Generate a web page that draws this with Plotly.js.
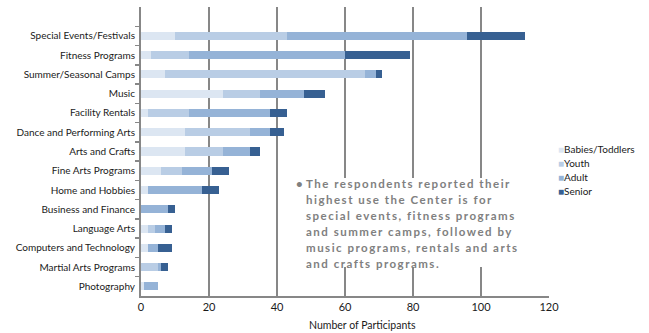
<!DOCTYPE html>
<html>
<head>
<meta charset="utf-8">
<script src="https://cdn.plot.ly/plotly-3.0.1.min.js"></script>
<style>
  html, body { margin: 0; padding: 0; background: #fff; }
  #chart { width: 649px; height: 333px; }
  .annotation-text.note { letter-spacing: 1.5px; }
</style>
</head>
<body>
<div id="chart"></div>
<script>
// Program usage by age group (listed top to bottom)
const programs = [
  "Special Events/Festivals",
  "Fitness Programs",
  "Summer/Seasonal Camps",
  "Music",
  "Facility Rentals",
  "Dance and Performing Arts",
  "Arts and Crafts",
  "Fine Arts Programs",
  "Home and Hobbies",
  "Business and Finance",
  "Language Arts",
  "Computers and Technology",
  "Martial Arts Programs",
  "Photography"
];
const babiesToddlers = [10, 3, 7, 24, 2, 13, 13, 6, 2, 0, 2, 2, 0, 1];
const youth          = [33, 11, 59, 11, 12, 19, 11, 6, 0, 0, 2, 0, 5, 0];
const adult          = [53, 46, 3, 13, 24, 6, 8, 9, 16, 8, 3, 3, 1, 4];
const senior         = [17, 19, 2, 6, 5, 4, 3, 5, 5, 2, 2, 4, 2, 0];
const seriesNames  = ["Babies/Toddlers", "Youth", "Adult", "Senior"];
const seriesColors = ["#dce6f2", "#b9cde5", "#95b3d7", "#376092"];
const xTicks = [0, 20, 40, 60, 80, 100, 120];

// commentary shown in the open area of the chart
const noteLines = [
  "The respondents reported their",
  "highest use the Center is for",
  "special events, fitness programs",
  "and summer camps, followed by",
  "music programs, rentals and arts",
  "and crafts programs."
];

const font = "Lato, 'Noto Sans', sans-serif";
const plotTop = 7, plotHeight = 289;
function paperY(px) { return (plotTop + plotHeight - px) / plotHeight; }

const data = [babiesToddlers, youth, adult, senior].map(function (values, i) {
  return {
    type: "bar",
    orientation: "h",
    name: seriesNames[i],
    y: programs,
    x: values,
    marker: { color: seriesColors[i], line: { width: 0 } },
    width: 0.42,
    hoverinfo: "x+name"
  };
});

// compact legend: one text row per series, square swatch in the series colour
const legendRows = seriesNames.map(function (name, i) {
  return {
    xref: "paper", yref: "paper",
    x: 1.018, y: paperY(149 + i * 14),
    xanchor: "left", yanchor: "middle",
    align: "left",
    showarrow: false,
    text: "<span style='color:" + seriesColors[i] + "'>■</span>" + name,
    font: { family: font, size: 10, color: "#1a1a1a" }
  };
});

const noteFont = { family: font, size: 11.5, color: "#808080", weight: "bold" };
const noteRows = noteLines.map(function (line, i) {
  return {
    xref: "x", yref: "paper",
    x: 48.0, y: paperY(183.5 + i * 16),
    xanchor: "left", yanchor: "middle",
    align: "left",
    showarrow: false,
    text: line,
    font: noteFont
  };
});
const bullet = {
  xref: "x", yref: "paper",
  x: 45.0, y: paperY(183.5),
  xanchor: "left", yanchor: "middle",
  showarrow: false,
  text: "•",
  font: noteFont
};

const layout = {
  width: 649,
  height: 333,
  barmode: "stack",
  paper_bgcolor: "#ffffff",
  plot_bgcolor: "#ffffff",
  margin: { l: 141, r: 100, t: plotTop, b: 37, autoexpand: false },
  font: { family: font, size: 10, color: "#1a1a1a" },
  showlegend: false,
  xaxis: {
    range: [0, 120],
    tickvals: xTicks,
    ticktext: xTicks.map(String),
    showgrid: true,
    gridcolor: "#878787",
    gridwidth: 2,
    zeroline: false,
    showline: true,
    linecolor: "#878787",
    linewidth: 2,
    ticks: "",
    tickfont: { family: font, size: 11, color: "#1a1a1a" },
    fixedrange: true
  },
  yaxis: {
    type: "category",
    categoryorder: "array",
    categoryarray: programs,
    range: [13.5, -1.5],
    autorange: false,
    showgrid: false,
    zeroline: false,
    showline: true,
    linecolor: "#878787",
    linewidth: 2,
    ticks: "outside",
    tickson: "boundaries",
    ticklen: 4,
    tickcolor: "#878787",
    tickwidth: 1.5,
    ticklabelstandoff: 2,
    tickfont: { family: font, size: 10, color: "#1a1a1a" },
    fixedrange: true
  },
  shapes: [
    // white panel behind the commentary, masking the gridlines
    {
      type: "rect", layer: "above",
      xref: "x", yref: "paper",
      x0: 44, x1: 115,
      y0: paperY(267), y1: paperY(178),
      fillcolor: "#ffffff",
      line: { width: 0 }
    }
  ],
  annotations: [
    {
      xref: "paper", yref: "paper",
      x: 0.544, y: -0.1,
      xanchor: "center", yanchor: "middle",
      text: "Number of Participants",
      showarrow: false,
      font: { family: font, size: 10.5, color: "#1a1a1a" }
    },
    bullet
  ].concat(noteRows, legendRows)
};

Plotly.newPlot("chart", data, layout, { displayModeBar: false, staticPlot: true }).then(function () {
  // widen the tracking of the commentary text
  document.querySelectorAll(".annotation-text").forEach(function (el) {
    if (noteLines.indexOf(el.textContent) >= 0) el.classList.add("note");
  });
});
</script>
</body>
</html>
